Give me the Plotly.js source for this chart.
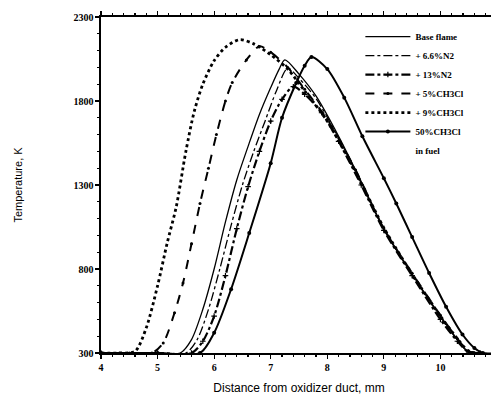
<!DOCTYPE html>
<html>
<head>
<meta charset="utf-8">
<script src="https://cdn.plot.ly/plotly-3.0.1.min.js"></script>
<style>
html,body{margin:0;padding:0;overflow:hidden;background:#fff;}
#chart{width:500px;height:407px;}
</style>
</head>
<body>
<div id="chart"></div>
<script>
// Series names (legend labels)
const seriesNames = ["Base flame", "+ 6.6%N2", "+ 13%N2", "+ 5%CH3Cl", "+ 9%CH3Cl", "50%CH3Cl"];
const extraLabel = "in fuel";

// Base flame
const baseX = [4.0,5.0,5.4,5.6,5.8,6.0,6.2,6.4,6.6,6.8,7.0,7.15,7.25,7.5,7.8,8.2,8.6,9.0,9.5,10.0,10.3,10.5,10.7];
const baseT = [300,300,300,380,560,800,1080,1330,1530,1720,1880,1990,2045,1960,1830,1590,1320,1040,770,520,380,305,300];

// + 6.6% N2
const n2aX = [4.0,5.0,5.5,5.7,5.9,6.1,6.3,6.5,6.7,6.9,7.1,7.3,7.5,7.8,8.2,8.6,9.0,9.5,10.0,10.3,10.5,10.7];
const n2aT = [300,300,300,380,560,800,1060,1300,1500,1680,1860,1995,1935,1815,1580,1310,1035,765,515,378,305,300];

// + 13% N2
const n2bX = [4.0,5.0,5.6,5.8,6.0,6.2,6.4,6.6,6.8,7.0,7.2,7.4,7.6,7.9,8.2,8.6,9.0,9.5,10.0,10.3,10.5,10.7];
const n2bT = [300,300,300,370,520,760,1040,1290,1500,1680,1810,1885,1840,1730,1560,1300,1030,760,500,370,305,300];

// + 5% CH3Cl
const cl5X = [4.0,4.5,4.9,5.1,5.3,5.45,5.6,5.75,5.9,6.04,6.2,6.32,6.57,6.8,7.0,7.3,7.6,8.0,8.5,9.0,9.5,10.0,10.3,10.5,10.7];
const cl5T = [300,300,300,360,540,717,950,1190,1400,1600,1800,1910,2044,2125,2090,2000,1870,1690,1390,1040,775,525,385,310,300];

// + 9% CH3Cl
const cl9X = [4.0,4.3,4.6,4.8,5.0,5.17,5.33,5.5,5.65,5.8,6.0,6.2,6.45,6.7,7.0,7.3,7.6,8.0,8.5,9.0,9.5,10.0,10.3,10.5,10.7];
const cl9T = [300,300,310,450,700,955,1170,1500,1740,1900,2040,2120,2165,2140,2075,1990,1860,1680,1380,1045,770,520,385,310,300];

// 50% CH3Cl in fuel
const cl50X = [4.0,5.0,5.75,6.0,6.3,6.62,7.0,7.2,7.45,7.6,7.72,8.0,8.3,8.62,9.0,9.22,9.5,9.8,10.1,10.39,10.6,10.75,11.0];
const cl50T = [300,300,300,420,680,1014,1430,1700,1907,2010,2062,1990,1820,1590,1340,1190,990,776,575,410,330,300,300];

const xTickVals = [4,5,6,7,8,9,10,11];
const xTickText = ["4","5","6","7","8","9","10","11"];
const yTickVals = [300,800,1300,1800,2300];
const yTickText = ["300","800","1300","1800","2300"];

const sm = 0.8;
const traces = [
  {x: baseX, y: baseT, name: seriesNames[0], mode: "lines",
   line: {color: "#000", width: 1.3, shape: "spline", smoothing: sm}},
  {x: n2aX, y: n2aT, name: seriesNames[1], mode: "lines",
   line: {color: "#000", width: 1.3, dash: "dashdot", shape: "spline", smoothing: sm}},
  {x: n2bX, y: n2bT, name: seriesNames[2], mode: "lines+markers",
   line: {color: "#000", width: 2.2, dash: "dashdot", shape: "spline", smoothing: sm},
   marker: {color: "#000", size: 4, symbol: "cross-thin", line: {color: "#000", width: 1.2}}},
  {x: cl5X, y: cl5T, name: seriesNames[3], mode: "lines+markers",
   line: {color: "#000", width: 2, dash: "dash", shape: "spline", smoothing: sm},
   marker: {color: "#000", size: 3}},
  {x: cl9X, y: cl9T, name: seriesNames[4], mode: "lines",
   line: {color: "#000", width: 2.8, dash: "dot", shape: "spline", smoothing: sm}},
  {x: cl50X, y: cl50T, name: seriesNames[5], mode: "lines+markers",
   line: {color: "#000", width: 2, shape: "spline", smoothing: sm}, marker: {color: "#000", size: 4}},
  {x: [null], y: [null], name: extraLabel, mode: "lines",
   line: {color: "rgba(0,0,0,0)", width: 0}}
];

const layout = {
  width: 500, height: 407,
  margin: {l: 101, r: 3, t: 17, b: 54},
  paper_bgcolor: "#fff", plot_bgcolor: "#fff",
  showlegend: true,
  legend: {x: 0.655, y: 0.985, xanchor: "left", yanchor: "top", itemwidth: 45,
           bgcolor: "rgba(0,0,0,0)", tracegroupgap: 0,
           font: {family: "Liberation Serif", size: 9, color: "#000", weight: "bold"}},
  xaxis: {range: [4, 11], tickvals: xTickVals, ticktext: xTickText,
          showgrid: false, zeroline: false, showline: true, linecolor: "#000", linewidth: 1.6,
          mirror: "ticks", ticks: "outside", ticklen: 4, tickwidth: 1.2, tickcolor: "#000",
          minor: {dtick: 0.2, ticks: "outside", ticklen: 2, tickcolor: "#000", showgrid: false},
          tickfont: {family: "Liberation Serif", size: 10, color: "#000", weight: "bold"},
          title: {text: "Distance from oxidizer duct, mm", standoff: 12,
                  font: {family: "Liberation Sans", size: 12, color: "#000"}}},
  yaxis: {range: [300, 2300], tickvals: yTickVals, ticktext: yTickText,
          showgrid: false, zeroline: false, showline: true, linecolor: "#000", linewidth: 1.6,
          mirror: "ticks", ticks: "outside", ticklen: 4, tickwidth: 1.2, tickcolor: "#000",
          minor: {dtick: 100, ticks: "outside", ticklen: 2, tickcolor: "#000", showgrid: false},
          tickfont: {family: "Liberation Serif", size: 10, color: "#000", weight: "bold"},
          title: {text: "Temperature, K", standoff: 48,
                  font: {family: "Liberation Sans", size: 11, color: "#000"}}}
};

Plotly.newPlot("chart", traces, layout, {displayModeBar: false, staticPlot: true});
</script>
</body>
</html>
